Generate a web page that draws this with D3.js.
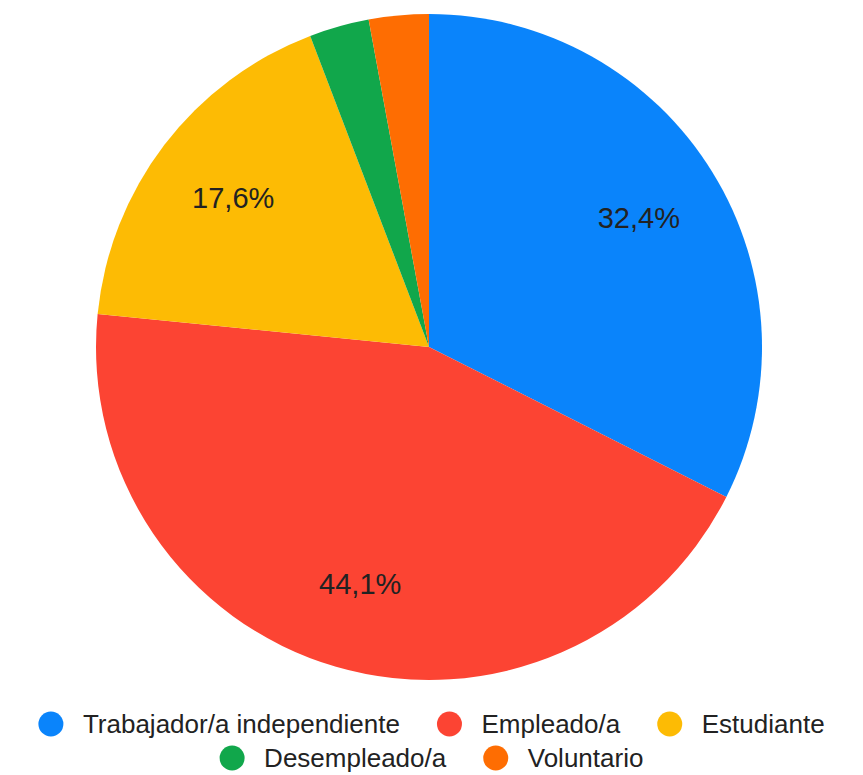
<!DOCTYPE html>
<html>
<head>
<meta charset="utf-8">
<script src="https://cdn.jsdelivr.net/npm/d3@7"></script>
<style>
  body { margin: 0; background: #fff; }
  svg { display: block; }
</style>
</head>
<body>
<div id="chart"></div>
<script>
// datos de la encuesta (porcentaje)
var categorias = ['Trabajador/a independiente', 'Empleado/a', 'Estudiante', 'Desempleado/a', 'Voluntario'];
var valores = [32.4, 44.1, 17.6, 2.9, 2.9];
var colores = ['#0a84fb', '#fc4433', '#fdbb04', '#11a74b', '#fe6d02'];
var etiquetas = ['32,4%', '44,1%', '17,6%', '', ''];
var filasLeyenda = [[0, 1, 2], [3, 4]];

var width = 863, height = 775;
var cx = 429, cy = 347, radius = 333;

var svg = d3.select('#chart').append('svg')
    .attr('width', width)
    .attr('height', height);

var pie = d3.pie().sort(null).value(function(d){ return d; });
var arcs = pie(valores);

var arc = d3.arc().innerRadius(0).outerRadius(radius);
var labelArc = d3.arc().innerRadius(radius * 0.74).outerRadius(radius * 0.74);

var g = svg.append('g').attr('transform', 'translate(' + cx + ',' + cy + ')');

g.selectAll('path.slice')
    .data(arcs)
    .enter().append('path')
    .attr('class', 'slice')
    .attr('d', arc)
    .attr('fill', function(d, i){ return colores[i]; });

g.selectAll('text.pct')
    .data(arcs)
    .enter().append('text')
    .attr('class', 'pct')
    .attr('transform', function(d){ return 'translate(' + labelArc.centroid(d) + ')'; })
    .attr('text-anchor', 'middle')
    .attr('dy', '0.36em')
    .style('font-family', 'Arial, "Liberation Sans", sans-serif')
    .style('font-size', '29px')
    .style('fill', '#222')
    .text(function(d, i){ return etiquetas[i]; });

// leyenda
var legY = [724, 758];
var dotR = 12.5, gapTxt = 19.5, gapItem = 37;

filasLeyenda.forEach(function(fila, f){
    var row = svg.append('g');
    var x = 0;
    fila.forEach(function(idx){
        row.append('circle')
            .attr('cx', x + dotR)
            .attr('cy', legY[f])
            .attr('r', dotR)
            .attr('fill', colores[idx]);
        var t = row.append('text')
            .attr('x', x + dotR * 2 + gapTxt)
            .attr('y', legY[f])
            .attr('dy', '0.36em')
            .style('font-family', 'Arial, "Liberation Sans", sans-serif')
            .style('font-size', '26px')
            .style('fill', '#222')
            .text(categorias[idx]);
        x += dotR * 2 + gapTxt + t.node().getComputedTextLength() + gapItem;
    });
    var total = x - gapItem;
    row.attr('transform', 'translate(' + ((width - total) / 2) + ',0)');
});
</script>
</body>
</html>
